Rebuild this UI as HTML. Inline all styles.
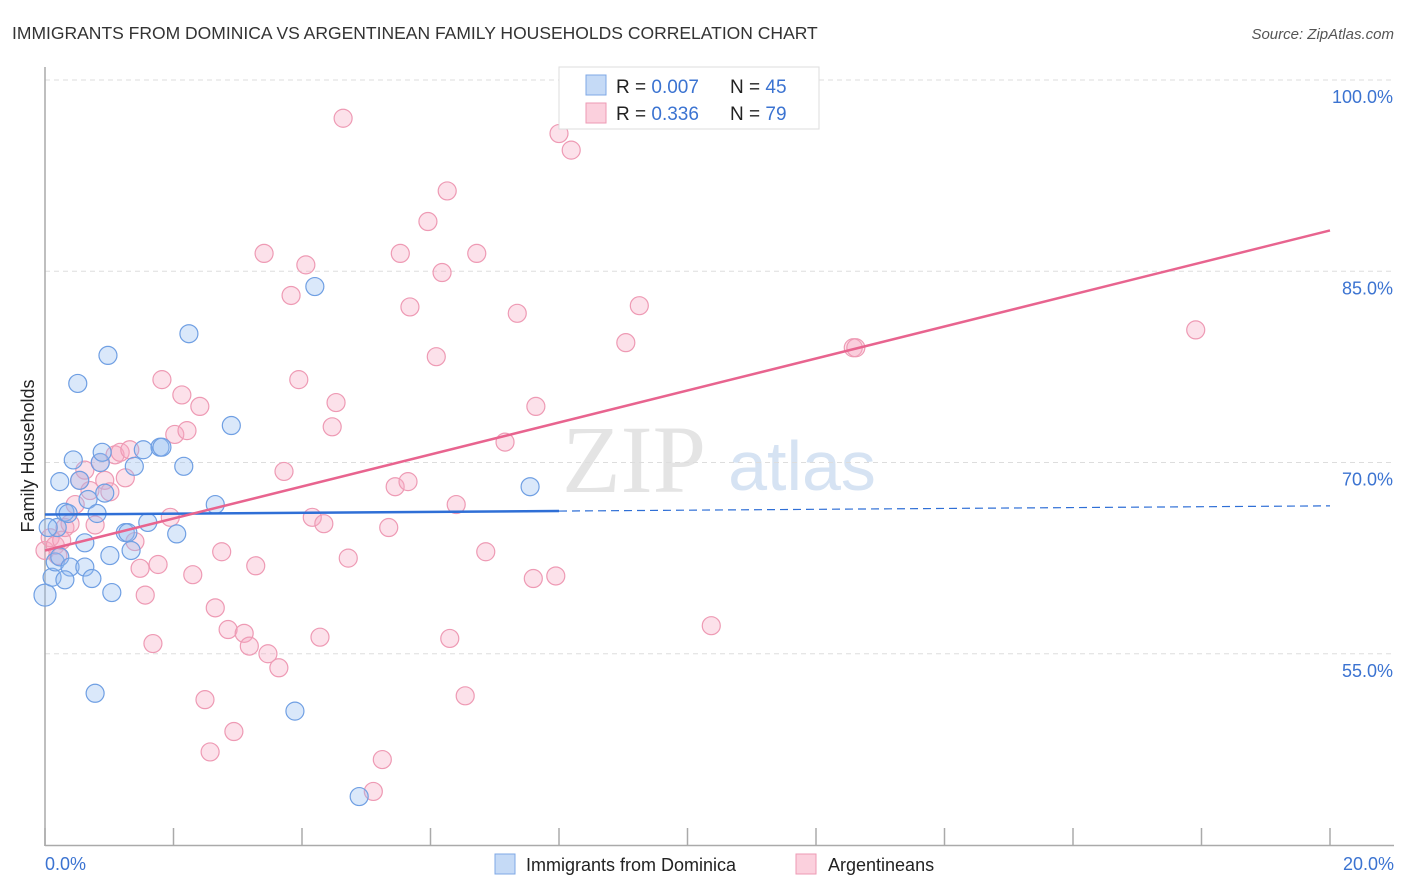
<!DOCTYPE html>
<html><head><meta charset="utf-8">
<style>
body{margin:0;background:#fff;font-family:"Liberation Sans",sans-serif;}
#wrap{position:relative;width:1406px;height:892px;overflow:hidden;}
svg{position:absolute;left:0;top:0;}
</style></head>
<body>
<div id="wrap">
<svg id="chart" width="1406" height="892">
  <text x="12" y="39" font-size="17.5" fill="#333">IMMIGRANTS FROM DOMINICA VS ARGENTINEAN FAMILY HOUSEHOLDS CORRELATION CHART</text>
  <text x="1394" y="39" font-size="15" fill="#555" font-style="italic" text-anchor="end">Source: ZipAtlas.com</text>
  <text x="634" y="492" font-size="96" fill="#e4e4e4" font-family="Liberation Serif, serif" text-anchor="middle">ZIP</text>
  <text x="802" y="490" font-size="70" fill="#d6e3f3" text-anchor="middle">atlas</text>
  <g id="grid"></g>
  <line x1="45" y1="67" x2="45" y2="846" stroke="#aaa" stroke-width="1.5"/>
  <line x1="45" y1="845.5" x2="1394" y2="845.5" stroke="#aaa" stroke-width="1.5"/>
  <g id="xticks"></g>
  <g id="pts"></g>
  <g id="trends"></g>
  <text transform="translate(34,456) rotate(-90)" font-size="18" fill="#222" text-anchor="middle">Family Households</text>
  <text x="45" y="870" font-size="18" fill="#3b73d1">0.0%</text>
  <text x="1394" y="870" font-size="18" fill="#3b73d1" text-anchor="end">20.0%</text>
  <g>
    <rect x="559" y="67" width="260" height="62" fill="#fff" stroke="#ddd"/>
    <rect x="586" y="75" width="20" height="20" fill="#c5daf6" stroke="#7fa8e6"/>
    <rect x="586" y="103" width="20" height="20" fill="#fbd0dd" stroke="#ee9ab4"/>
    <text x="616" y="93" font-size="19" fill="#222">R = <tspan fill="#3b73d1">0.007</tspan></text>
    <text x="730" y="93" font-size="19" fill="#222">N = <tspan fill="#3b73d1">45</tspan></text>
    <text x="616" y="120" font-size="19" fill="#222">R = <tspan fill="#3b73d1"> 0.336</tspan></text>
    <text x="730" y="120" font-size="19" fill="#222">N = <tspan fill="#3b73d1">79</tspan></text>
  </g>
  <g>
    <rect x="495" y="854" width="20" height="20" fill="#c5daf6" stroke="#7fa8e6"/>
    <text x="526" y="871" font-size="18" fill="#222">Immigrants from Dominica</text>
    <rect x="796" y="854" width="20" height="20" fill="#fbd0dd" stroke="#ee9ab4"/>
    <text x="828" y="871" font-size="18" fill="#222">Argentineans</text>
  </g>
</svg>
</div>
<script>
const yTicks=[100,85,70,55];
const yTickLabels=["100.0%","85.0%","70.0%","55.0%"];
const xTicks=[0,2,4,6,8,10,12,14,16,18,20];
const blueX=[0,0.11,0.16,0.23,0.23,0.19,0.31,0.36,0.39,0.44,0.51,0.54,0.62,0.62,0.67,0.73,0.78,0.81,0.86,0.89,0.93,0.98,1.01,1.04,1.25,1.29,1.34,1.39,1.53,1.60,1.79,1.82,2.05,2.16,2.24,2.65,2.90,3.89,4.20,4.89,7.55,0.05,0.31];
const blueY=[59.6,61.0,62.2,62.6,68.5,64.9,66.1,66.0,61.8,70.2,76.2,68.6,63.7,61.8,67.1,60.9,51.9,66.0,70.0,70.8,67.6,78.4,62.7,59.8,64.5,64.5,63.1,69.7,71.0,65.3,71.2,71.2,64.4,69.7,80.1,66.7,72.9,50.5,83.8,43.8,68.1,64.9,60.8];
const pinkX=[0,0.08,0.16,0.20,0.26,0.31,0.39,0.47,0.54,0.62,0.70,0.78,0.86,0.93,1.01,1.09,1.17,1.25,1.32,1.40,1.48,1.56,1.68,1.76,1.82,1.95,2.02,2.13,2.21,2.30,2.41,2.49,2.57,2.65,2.75,2.85,2.94,3.10,3.18,3.28,3.41,3.47,3.64,3.72,3.83,3.95,4.06,4.16,4.28,4.34,4.47,4.53,4.64,4.72,5.11,5.25,5.35,5.45,5.53,5.65,5.68,5.96,6.09,6.18,6.26,6.30,6.40,6.54,6.72,6.86,7.16,7.35,7.60,7.64,7.95,8.00,8.19,9.04,9.25,10.37,12.58,12.62,17.91];
const pinkY=[63.1,64.1,63.5,62.7,63.9,64.9,65.2,66.7,68.6,69.4,67.8,65.1,70.0,68.6,67.7,70.6,70.8,68.8,71.0,63.8,61.7,59.6,55.8,62.0,76.5,65.7,72.2,75.3,72.5,61.2,74.4,51.4,47.3,58.6,63.0,56.9,48.9,56.6,55.6,61.9,86.4,55.0,53.9,69.3,83.1,76.5,85.5,65.7,56.3,65.2,72.8,74.7,97.0,62.5,44.2,46.7,64.9,68.1,86.4,68.5,82.2,88.9,78.3,84.9,91.3,56.2,66.7,51.7,86.4,63.0,71.6,81.7,60.9,74.4,61.1,95.8,94.5,79.4,82.3,57.2,79.0,79.0,80.4];
const blueTrend=[65.92,66.6];   // value at x=0, x=20
const pinkTrend=[63.1,88.2];
const blueSolidEnd=8.0;

const NS="http://www.w3.org/2000/svg";
const xs=v=>45+v*64.25;
const ys=v=>80+(100-v)*12.75;
function mk(tag,attrs,parent){const e=document.createElementNS(NS,tag);for(const k in attrs)e.setAttribute(k,attrs[k]);parent.appendChild(e);return e;}
const grid=document.getElementById('grid');
yTicks.forEach((t,i)=>{
  const l=mk('line',{x1:45,x2:1394,y1:ys(t),y2:ys(t),stroke:'#ddd','stroke-dasharray':'5,4'},grid);
  
  
  const tx=mk('text',{x:1393,y:ys(t)+23,'font-size':18,fill:'#3b73d1','text-anchor':'end'},grid);
  tx.textContent=yTickLabels[i];
  
  
});
const xt=document.getElementById('xticks');
xTicks.forEach(t=>{
  const l=mk('line',{x1:xs(t),x2:xs(t),y1:828,y2:846,stroke:'#aaa','stroke-width':1.5},xt);
  
  
});
const pts=document.getElementById('pts');
pinkX.forEach((x,i)=>{
  const c=mk('circle',{cx:xs(x),cy:ys(pinkY[i]),r:9,fill:'rgba(246,170,195,0.35)',stroke:'#ee9ab4','stroke-width':1.2},pts);
  
  
});
blueX.forEach((x,i)=>{
  const c=mk('circle',{cx:xs(x),cy:ys(blueY[i]),r:i==0?11:9,fill:'rgba(150,190,240,0.35)',stroke:'#6f9fe3','stroke-width':1.2},pts);
  
  
});
const tr=document.getElementById('trends');
const bAt=x=>blueTrend[0]+(blueTrend[1]-blueTrend[0])*x/20;
let l1=mk('line',{x1:xs(0),y1:ys(bAt(0)),x2:xs(blueSolidEnd),y2:ys(bAt(blueSolidEnd)),stroke:'#2f6fd6','stroke-width':2.5},tr);


let l2=mk('line',{x1:xs(blueSolidEnd),y1:ys(bAt(blueSolidEnd)),x2:xs(20),y2:ys(bAt(20)),stroke:'#2f6fd6','stroke-width':1.2,'stroke-dasharray':'8,5'},tr);


let l3=mk('line',{x1:xs(0),y1:ys(pinkTrend[0]),x2:xs(20),y2:ys(pinkTrend[1]),stroke:'#e8648f','stroke-width':2.5},tr);


</script>
</body></html>
